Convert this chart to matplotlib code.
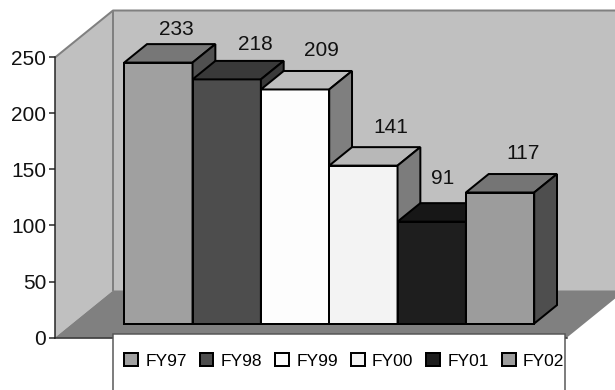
import matplotlib
matplotlib.use("Agg")
from matplotlib import pyplot as plt
from matplotlib.patches import Polygon, Rectangle, Patch

years = ["FY97", "FY98", "FY99", "FY00", "FY01", "FY02"]
values = [233, 218, 209, 141, 91, 117]
y_ticks = [0, 50, 100, 150, 200, 250]

front_colors = ["#a0a0a0", "#4d4d4d", "#fdfdfd", "#f3f3f3", "#1e1e1e", "#9c9c9c"]
top_colors = ["#777777", "#393939", "#bebebe", "#b8b8b8", "#171717", "#757575"]
side_colors = ["#505050", "#393939", "#7f7f7f", "#7c7c7c", "#171717", "#4e4e4e"]
# hand placed labels, offset from front top left corner of bar in pixels
label_dx = [52, 63, 61, 62, 45, 57]
label_dy = [33, 35, 39, 38, 43, 39]

WIDTH, HEIGHT = 615, 390
PX = 72 / 100  # points per pixel at dpi 100
UNIT = 1.12  # pixels per value unit
WALL_X, ZERO_Y = 55, 337.5
DEPTH_X, DEPTH_Y = 58, 47 / UNIT
PLOT_W = 512
BAR_START, BAR_W = 52, 68.33
BAR_D0, BAR_D1 = 0.297, 0.69


def proj(x, v, d=0.0):
    return (x + d * DEPTH_X, v + d * DEPTH_Y)


def box(ax, x, v, front, top, side):
    lw = 2 * PX
    kw = dict(edgecolor="black", linewidth=lw, joinstyle="miter", zorder=3)
    ax.add_patch(Polygon([proj(x, 0, BAR_D0), proj(x + BAR_W, 0, BAR_D0),
                          proj(x + BAR_W, v, BAR_D0), proj(x, v, BAR_D0)],
                         facecolor=front, **kw))
    ax.add_patch(Polygon([proj(x, v, BAR_D0), proj(x + BAR_W, v, BAR_D0),
                          proj(x + BAR_W, v, BAR_D1), proj(x, v, BAR_D1)],
                         facecolor=top, **kw))
    ax.add_patch(Polygon([proj(x + BAR_W, 0, BAR_D0), proj(x + BAR_W, v, BAR_D0),
                          proj(x + BAR_W, v, BAR_D1), proj(x + BAR_W, 0, BAR_D1)],
                         facecolor=side, **kw))


plt.rcParams["font.family"] = ["Liberation Sans", "DejaVu Sans"]
fig = plt.figure(figsize=(WIDTH / 100, HEIGHT / 100), dpi=100)
ax = fig.add_axes([0, 0, 1, 1])
ax.set_xlim(-WALL_X, WIDTH - WALL_X)
ax.set_ylim(-(HEIGHT - ZERO_Y) / UNIT, ZERO_Y / UNIT)
ax.patch.set_visible(False)

top_val = y_ticks[-1]
# walls and floor
ax.add_patch(Polygon([proj(0, 0), proj(0, 0, 1), proj(0, top_val, 1), proj(0, top_val)],
                     facecolor="#c0c0c0", edgecolor="none"))
ax.add_patch(Polygon([proj(0, 0, 1), proj(PLOT_W, 0, 1), proj(PLOT_W, top_val, 1), proj(0, top_val, 1)],
                     facecolor="#c0c0c0", edgecolor="none"))
ax.add_patch(Polygon([proj(0, 0), proj(PLOT_W, 0), proj(PLOT_W, 0, 1), proj(0, 0, 1)],
                     facecolor="#808080", edgecolor="none"))
wall_kw = dict(color="#808080", lw=2 * PX, solid_capstyle="butt", zorder=2)
ax.plot(*zip(proj(0, top_val), proj(0, top_val, 1), proj(PLOT_W, top_val, 1)), **wall_kw)
ax.plot(*zip(proj(0, 0, 1), proj(0, top_val, 1)), **wall_kw)
ax.plot(*zip(proj(0, 0), proj(PLOT_W, 0)), color="#222222", lw=1.5 * PX, zorder=2)

for i, v in enumerate(values):
    x = BAR_START + i * BAR_W
    box(ax, x, v, front_colors[i], top_colors[i], side_colors[i])
    ax.annotate(str(v), xy=proj(x, v, BAR_D0), xytext=(label_dx[i] * PX, label_dy[i] * PX),
                textcoords="offset points", ha="center", va="center",
                fontsize=15, color="#111111", zorder=4)

# y axis
ax.set_yticks(y_ticks)
ax.set_xticks([])
for name in ["top", "right", "bottom"]:
    ax.spines[name].set_visible(False)
ax.spines["left"].set_position(("data", 0))
ax.spines["left"].set_bounds(0, top_val)
ax.spines["left"].set_linewidth(1.5 * PX)
ax.spines["left"].set_color("#222222")
ax.tick_params(axis="y", direction="out", length=6 * PX, width=1.5 * PX, pad=2,
               labelsize=15, color="#222222", labelcolor="#111111")

# legend
trans = ax.transAxes
ax.add_patch(Rectangle((113 / WIDTH, -0.02), 452 / WIDTH, (HEIGHT - 333.7) / HEIGHT + 0.02,
                       transform=trans, facecolor="white", edgecolor="#555555",
                       linewidth=1.5 * PX, zorder=5))
handles = [Patch(facecolor=c, edgecolor="black", linewidth=2 * PX) for c in front_colors]
leg = ax.legend(handles, years, ncol=6, loc="center left",
                bbox_to_anchor=(124 / WIDTH, (HEIGHT - 361) / HEIGHT), bbox_transform=trans,
                frameon=False, fontsize=12.5, borderpad=0, borderaxespad=0,
                handlelength=0.8, handleheight=0.8, handletextpad=0.42, columnspacing=0.74)
leg.set_zorder(6)

fig.savefig("out.png", dpi=100)
